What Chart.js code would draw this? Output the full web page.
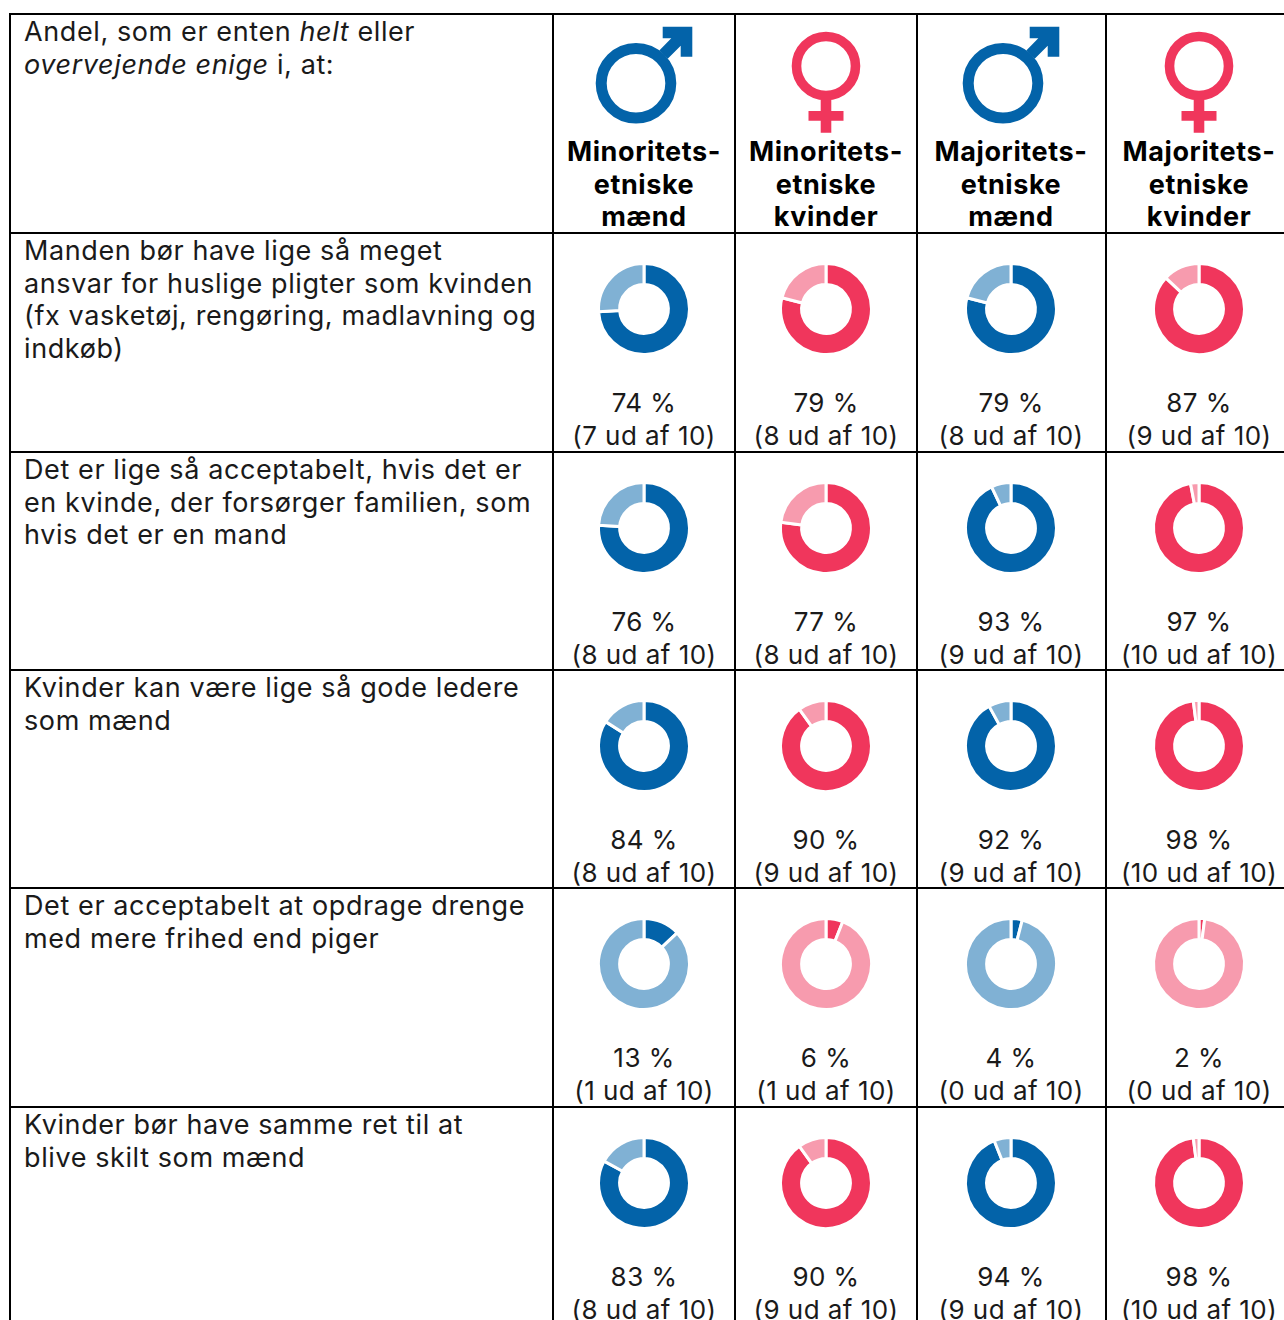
<!DOCTYPE html>
<html lang="da">
<head>
<meta charset="utf-8">
<title>Andel enige</title>
<script src="https://cdn.jsdelivr.net/npm/chart.js@4"></script>
<style>
html, body { margin: 0; padding: 0; background: #fff; }
#page { position: relative; width: 1284px; height: 1320px; overflow: hidden; font-family: Inter, sans-serif; color: #1a1a1a; }
.line { position: absolute; background: #000; }
.txt { position: absolute; font-size: 26px; line-height: 32.6px; white-space: nowrap; letter-spacing: 0.45px; }
.left { font-size: 27px; letter-spacing: 0.6px; }
.ctr { transform: translateX(-50%); text-align: center; }
.head { font-size: 27px; letter-spacing: 0.6px; font-weight: 700; color: #000; }
canvas { position: absolute; }
svg { position: absolute; }
</style>
</head>
<body>
<div id="page"></div>
<script>
const groups = ['Minoritets-<br>etniske<br>mænd', 'Minoritets-<br>etniske<br>kvinder', 'Majoritets-<br>etniske<br>mænd', 'Majoritets-<br>etniske<br>kvinder'];
const intro = 'Andel, som er enten <i>helt</i> eller<br><i>overvejende enige</i> i, at:';
const statements = [
    'Manden bør have lige så meget<br>ansvar for huslige pligter som kvinden<br>(fx vasketøj, rengøring, madlavning og<br>indkøb)',
    'Det er lige så acceptabelt, hvis det er<br>en kvinde, der forsørger familien, som<br>hvis det er en mand',
    'Kvinder kan være lige så gode ledere<br>som mænd',
    'Det er acceptabelt at opdrage drenge<br>med mere frihed end piger',
    'Kvinder bør have samme ret til at<br>blive skilt som mænd'
];
const minorityMen = [74, 76, 84, 13, 83];
const minorityWomen = [79, 77, 90, 6, 90];
const majorityMen = [79, 93, 92, 4, 94];
const majorityWomen = [87, 97, 98, 2, 98];
const outOfTenMinorityMen = [7, 8, 8, 1, 8];
const outOfTenMinorityWomen = [8, 8, 9, 1, 9];
const outOfTenMajorityMen = [8, 9, 9, 0, 9];
const outOfTenMajorityWomen = [9, 10, 10, 0, 10];

const values = [minorityMen, minorityWomen, majorityMen, majorityWomen];
const outOfTen = [outOfTenMinorityMen, outOfTenMinorityWomen, outOfTenMajorityMen, outOfTenMajorityWomen];

// layout of the table
const colLines = [10, 553, 735, 917, 1106];
const rowLines = [14, 233, 452, 670, 888, 1107];
const colCentres = [644, 826, 1011, 1199];

const blue = '#0363a9';
const lightBlue = '#80b1d4';
const pink = '#f0365c';
const lightPink = '#f79bae';

const page = document.getElementById('page');

function addLine(x, y, w, h) {
    let d = document.createElement('div');
    d.className = 'line';
    d.style.cssText = `left:${x}px;top:${y}px;width:${w}px;height:${h}px`;
    page.appendChild(d);
}

function addText(html, x, y, cls) {
    let d = document.createElement('div');
    d.className = 'txt ' + (cls || '');
    d.style.left = x + 'px';
    d.style.top = y + 'px';
    d.innerHTML = html;
    page.appendChild(d);
}

colLines.forEach(x => addLine(x - 1, 13, 2, 1307));
rowLines.forEach(y => addLine(9, y - 1, 1275, 2));

// gender icons, x is relative to the column centre
function maleIcon(cx) {
    return `<svg style="left:${cx - 60}px;top:14px" width="120" height="120" viewBox="-60 0 120 120">
        <circle cx="-8" cy="69.3" r="34.8" fill="none" stroke="${blue}" stroke-width="11"/>
        <path d="M18.7 12.7H48.3V42.7H36.7V31.7L23.7 44.7L15.3 36.4L27.3 24.3H18.7Z" fill="${blue}"/>
    </svg>`;
}
function femaleIcon(cx) {
    return `<svg style="left:${cx - 60}px;top:14px" width="120" height="120" viewBox="-60 0 120 120">
        <circle cx="0" cy="52" r="29.5" fill="none" stroke="${pink}" stroke-width="9.6"/>
        <path d="M-5.3 84H5.3V97H17.5V106.7H5.3V118.7H-5.3V106.7H-17.5V97H-5.3Z" fill="${pink}"/>
    </svg>`;
}

addText(intro, 24, 16, 'left');
colCentres.forEach((cx, c) => {
    page.insertAdjacentHTML('beforeend', c % 2 == 0 ? maleIcon(cx) : femaleIcon(cx));
    addText(groups[c], cx, 136, 'ctr head');
});

statements.forEach((s, r) => {
    let top = rowLines[r + 1];
    addText(s, 24, top + 2, 'left');
    colCentres.forEach((cx, c) => {
        let v = values[c][r];
        addText(`${v} %<br>(${outOfTen[c][r]} ud af 10)`, cx, top + 154, 'ctr');
        let cv = document.createElement('canvas');
        cv.style.left = (cx - 50) + 'px';
        cv.style.top = (top + 26) + 'px';
        cv.style.width = '100px';
        cv.style.height = '100px';
        cv.width = 100;
        cv.height = 100;
        page.appendChild(cv);
        let female = c % 2 == 1;
        new Chart(cv.getContext('2d'), {
            type: 'doughnut',
            data: {
                labels: ['Enige', 'Øvrige'],
                datasets: [{
                    data: [v, 100 - v],
                    backgroundColor: female ? [pink, lightPink] : [blue, lightBlue],
                    borderColor: '#fff',
                    borderWidth: 3
                }]
            },
            options: {
                responsive: false,
                animation: false,
                cutout: 26,
                radius: 45.5,
                plugins: { legend: { display: false }, tooltip: { enabled: false } }
            }
        });
    });
});
</script>
</body>
</html>
